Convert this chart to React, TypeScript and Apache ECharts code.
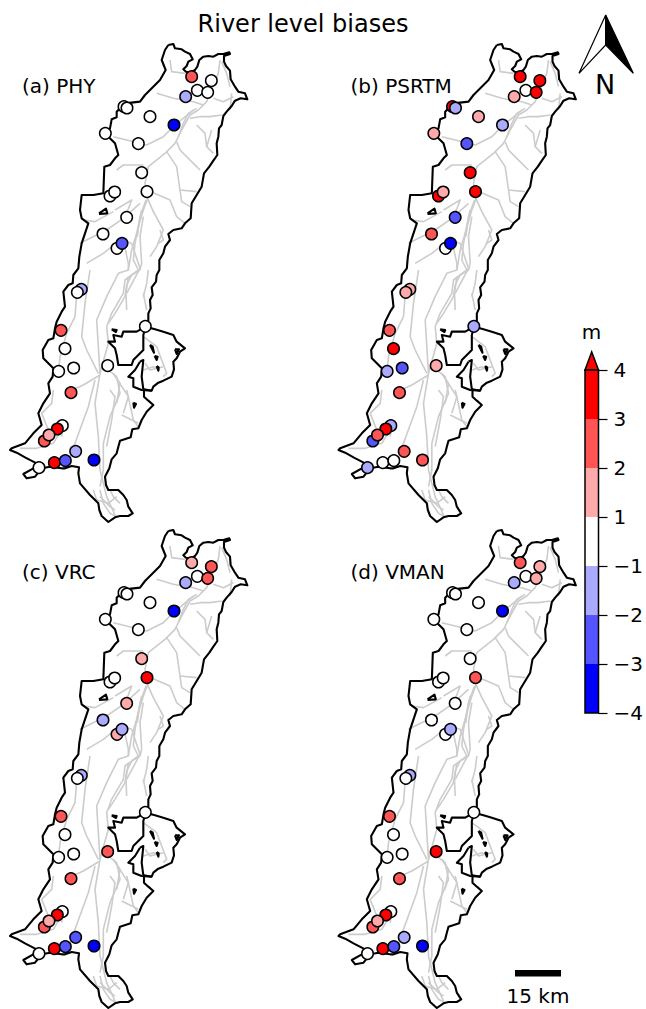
import React, { useEffect, useRef } from "react";
import * as echarts from "echarts";

const FONT = "DejaVu Sans";
const panelLabels = ["(a) PHY", "(b) PSRTM", "(c) VRC", "(d) VMAN"];
const tickLabels = ["\u22124", "\u22123", "\u22122", "\u22121", "1", "2", "3", "4"];
const binColors = ["#0000ff", "#5555ff", "#aaaaff", "#ffffff", "#ffaaaa", "#ff5555", "#ff0000"];
const binEdges = [-3, -2, -1, 1, 2, 3];

// Map units: 3 units per screen pixel
const stations: number[][] = [
  [575, 140], [634, 152], [592, 181], [623, 187], [557, 200], [372, 230], [381, 234], [450, 260],
  [522, 285], [316, 310], [415, 341], [425, 428], [330, 498], [344, 486], [441, 485], [380, 562],
  [309, 612], [351, 655], [366, 640], [244, 778], [232, 787], [436, 889], [183, 901], [195, 956],
  [221, 1014], [176, 1024], [323, 1007], [213, 1088], [187, 1187], [172, 1197], [133, 1233],
  [147, 1215], [227, 1264], [282, 1290], [117, 1313], [163, 1298], [196, 1292],
];
const biasPHY = [2.5, 0, 0, 0, -1.5, 0, 0, 0, -3.5, 0, 0, 0, 0, 0, 0, 0, 0, 0, -2.5, -1.5, 0, 0, 2.5, 0, 0, 0, 0, 2.5, 0, 3.5, 2.5, 1.5, -1.5, -3.5, 0, 3.5, -2.5];
const biasPSRTM = [3.5, 3.5, 0, 3.5, 1.5, 3.5, -1.5, 1.5, -1.5, 1.5, -2.5, 3.5, 3.5, 1.5, 3.5, -2.5, 2.5, 0, -3.5, 1.5, 1.5, -1.5, 2.5, 3.5, -2.5, -1.5, 1.5, 2.5, -1.5, 3.5, -2.5, 2.5, 2.5, 2.5, -1.5, 0, 0];
const biasVRC = [1.5, 2.5, 0, 2.5, -1.5, 0, 0, 0, -3.5, 0, 0, 1.5, 0, 0, 3.5, 1.5, -1.5, 1.5, -1.5, -1.5, 0, 0, 2.5, 0, 0, 0, 2.5, 2.5, 0, 3.5, 2.5, 1.5, -2.5, -3.5, 0, 3.5, -2.5];
const biasVMAN = [2.5, 1.5, 0, 1.5, -1.5, 0, 0, 0, -3.5, 0, 0, 0, 0, 0, 2.5, 0, 0, 0, -1.5, -1.5, 0, 0, 2.5, 0, 0, 0, 3.5, 2.5, 0, 3.5, 2.5, 1.5, -1.5, -3.5, 0, 3.5, -2.5];
const panelBias = [biasPHY, biasPSRTM, biasVRC, biasVMAN];

const outline: number[][] = [
  [505, 45], [520, 42], [525, 55], [545, 58], [555, 65], [570, 72], [578, 88], [565, 95], [560, 108], [550, 118],
  [558, 125], [572, 128], [585, 120], [592, 110], [598, 90], [610, 80], [625, 78], [640, 80], [655, 72], [670, 72],
  [688, 67], [690, 72], [672, 78], [672, 95], [678, 108], [690, 122], [692, 148], [705, 170], [715, 185], [735, 190],
  [742, 208], [722, 205], [705, 212], [695, 228], [680, 245], [670, 258], [665, 285], [657, 295], [655, 320], [650, 340],
  [652, 375], [640, 392], [628, 410], [612, 430], [605, 470], [590, 495], [575, 520], [572, 565], [555, 580], [545, 595],
  [520, 600], [505, 612], [510, 630], [495, 650], [490, 670], [478, 690], [478, 720], [470, 735], [468, 755], [455, 772],
  [458, 795], [450, 810], [452, 835], [445, 850], [445, 872], [437, 890], [465, 898], [490, 905], [520, 915], [530, 935],
  [555, 955], [540, 965], [530, 985], [520, 995], [522, 1018], [515, 1040], [490, 1052], [475, 1058], [460, 1070], [455, 1082],
  [432, 1078], [432, 1100], [445, 1112], [460, 1125], [440, 1145], [425, 1170], [415, 1195], [397, 1198], [392, 1222], [360, 1232],
  [355, 1250], [350, 1270], [335, 1288], [328, 1315], [315, 1340], [318, 1365], [325, 1380], [355, 1380], [370, 1395], [380, 1410],
  [385, 1430], [398, 1450], [385, 1458], [360, 1458], [345, 1462], [325, 1476], [305, 1458], [298, 1440], [295, 1420], [270, 1395],
  [240, 1360], [235, 1330], [237, 1312], [215, 1308], [195, 1315], [185, 1315], [150, 1310], [125, 1315], [105, 1340], [80, 1345],
  [70, 1332], [100, 1315], [110, 1300], [75, 1282], [50, 1268], [30, 1260], [35, 1255], [75, 1240], [100, 1210], [125, 1185],
  [115, 1150], [130, 1120], [150, 1090], [145, 1060], [158, 1040], [160, 1015], [130, 985], [128, 960], [145, 930], [160, 925],
  [165, 895], [170, 875], [185, 845], [195, 830], [190, 785], [205, 765], [218, 760], [220, 735], [235, 715], [238, 680],
  [245, 640], [265, 580], [245, 565], [240, 540], [245, 495], [280, 495], [310, 490], [313, 410], [330, 405], [345, 385],
  [355, 375], [345, 340], [325, 320], [305, 310], [330, 295], [335, 268], [350, 262], [350, 245], [375, 220], [420, 215],
  [435, 195], [450, 180], [480, 150], [497, 120], [485, 90], [495, 60], [505, 45],
];
const innerBorderA: number[][] = [
  [437, 890], [410, 905], [370, 905], [365, 920], [340, 915], [345, 935], [325, 935], [345, 955],
  [350, 975], [355, 1005], [395, 1005], [400, 990], [430, 960], [430, 915], [437, 890],
];
const innerBorderB: number[][] = [
  [420, 995], [405, 1020], [385, 1040], [400, 1045], [400, 1070], [425, 1080], [455, 1082],
];
const innerBorderC: number[][] = [[420, 995], [430, 990], [425, 1040], [430, 1078]];
const holes: number[][][] = [
  [[297, 550], [318, 536], [322, 550], [297, 552]],
  [[335, 898], [350, 900], [348, 906], [335, 898]],
  [[450, 945], [458, 950], [462, 968], [450, 945]],
  [[464, 978], [473, 980], [470, 990], [464, 978]],
  [[470, 1008], [476, 1012], [475, 1022], [470, 1008]],
  [[525, 958], [537, 958], [530, 972], [525, 958]],
  [[400, 1118], [408, 1122], [402, 1133], [400, 1118]],
];
const rivers: number[][][] = [
  [[510, 90], [515, 125], [555, 130]],
  [[660, 90], [655, 130], [640, 165], [620, 215], [595, 240], [570, 255], [545, 300], [525, 340], [495, 370], [445, 410], [435, 460], [445, 500], [430, 540], [415, 590], [405, 640], [400, 690], [415, 720], [375, 750], [370, 790], [335, 850], [320, 890], [325, 940], [300, 1030]],
  [[425, 540], [410, 610], [395, 660], [385, 720], [355, 730], [320, 800], [290, 870], [300, 1030], [285, 1120], [295, 1220], [300, 1320], [320, 1400], [345, 1455]],
  [[300, 1035], [250, 1065], [205, 1085]],
  [[285, 1050], [265, 1130], [225, 1240], [205, 1300]],
  [[270, 720], [255, 820], [245, 920], [260, 960], [295, 1030]],
  [[325, 1020], [350, 1040], [360, 1090], [330, 1160], [310, 1240], [310, 1320], [300, 1370]],
  [[340, 1030], [385, 1100], [400, 1170], [415, 1190]],
  [[365, 1155], [415, 1180]],
  [[230, 795], [225, 860], [200, 910], [180, 980], [175, 1030]],
  [[145, 1200], [125, 1150], [155, 1120], [160, 1080]],
  [[60, 1255], [110, 1255], [160, 1240], [190, 1190], [185, 1220]],
  [[280, 1380], [290, 1410], [325, 1420], [350, 1400]],
  [[330, 1380], [340, 1400], [360, 1420]],
  [[300, 1400], [330, 1430], [345, 1440]],
  [[695, 190], [690, 240]],
  [[690, 170], [680, 130], [665, 95]],
  [[470, 190], [520, 205], [580, 215], [610, 225]],
  [[340, 320], [380, 330], [440, 345], [490, 320], [525, 285], [550, 265], [580, 240]],
  [[665, 255], [630, 260], [600, 260], [570, 265]],
  [[635, 300], [620, 350], [640, 370]],
  [[590, 285], [615, 310], [620, 350]],
  [[530, 335], [540, 360], [580, 400], [600, 420]],
  [[500, 365], [530, 410], [540, 480], [590, 485]],
  [[540, 480], [545, 515], [570, 530]],
  [[440, 480], [510, 510], [530, 560], [555, 580]],
  [[350, 420], [370, 405], [430, 405]],
  [[440, 500], [460, 545], [490, 600], [470, 650], [450, 680]],
  [[240, 640], [320, 600], [370, 565], [420, 520]],
  [[260, 700], [310, 670], [360, 630], [395, 640]],
  [[345, 540], [395, 510], [380, 550]],
  [[250, 570], [285, 575], [340, 545]],
  [[370, 630], [385, 700], [385, 720]],
  [[395, 640], [420, 715], [380, 790]],
  [[430, 790], [440, 840]],
  [[430, 920], [470, 950], [500, 1030], [490, 1040]],
  [[430, 1020], [460, 1010], [480, 1020]],
  [[420, 720], [395, 735], [380, 765], [375, 800], [345, 850], [325, 880]],
  [[385, 740], [378, 790], [380, 840]],
  [[445, 720], [440, 760], [430, 800]],
  [[340, 1030], [360, 1060], [350, 1120]],
  [[380, 1080], [385, 1100], [370, 1150]],
  [[300, 1380], [310, 1420], [330, 1450], [350, 1460]],
  [[490, 1010], [450, 1020], [435, 1000]],
  [[430, 560], [420, 620], [425, 700], [420, 720]],
  [[480, 600], [490, 630], [475, 640]],
  [[438, 510], [420, 560], [412, 620]],
  [[590, 235], [565, 250], [550, 280], [535, 320]],
  [[700, 200], [670, 215], [640, 205]],
  [[330, 1080], [345, 1100], [335, 1170], [320, 1250]],
];

const binColor = (v: number) => {
  const i = binEdges.findIndex((e) => v < e);
  return binColors[i < 0 ? binColors.length - 1 : i];
};

const panelLeft = [0, 328.5, 0, 328.5];
const panelTop = [30, 30, 516, 516];

export default function App() {
  const ref = useRef<HTMLDivElement>(null);
  useEffect(() => {
    document.body.style.margin = "0";
    const chart = echarts.init(ref.current!, undefined, { renderer: "svg" });
    const series: any[] = [];
    panelBias.forEach((bias, p) => {
      const line = (data: number[][], color: string, width: number, z: number) => ({
        type: "line", xAxisIndex: p, yAxisIndex: p, data, symbol: "none", silent: true, z,
        lineStyle: { color, width, join: "round" },
      });
      rivers.forEach((r) => series.push(line(r, "#cccccc", 1.6, 1)));
      [outline, innerBorderA, innerBorderB, innerBorderC, ...holes].forEach((o) => series.push(line(o, "#000000", 2.1, 2)));
      stations.forEach((s, i) => {
        series.push({
          type: "scatter", xAxisIndex: p, yAxisIndex: p, data: [s], symbol: "circle", symbolSize: 11.5,
          silent: true, z: 3,
          itemStyle: { color: binColor(bias[i]), borderColor: "#000", borderWidth: 1.5, opacity: 1 },
        });
      });
    });
    binColors.forEach((c) => {
      series.push({
        type: "bar", xAxisIndex: 4, yAxisIndex: 4, stack: "cb", barWidth: "100%", data: [1],
        silent: true, itemStyle: { color: c },
      });
    });
    const text = (t: string, x: number, y: number, size: number, align = "left") => ({
      type: "text", x, y, silent: true,
      style: { text: t, fontFamily: FONT, fontSize: size, fill: "#000", align, verticalAlign: "middle" },
    });
    chart.setOption({
      animation: false,
      title: { show: false },
      grid: [
        ...panelLeft.map((l, i) => ({ left: l, top: panelTop[i], width: 310, height: 493 })),
        { left: 585, top: 370, width: 13.5, height: 343 },
      ],
      xAxis: [
        ...panelLeft.map((_, i) => ({ gridIndex: i, type: "value", min: 0, max: 930, show: false })),
        { gridIndex: 4, type: "category", data: ["bar"], show: false },
      ],
      yAxis: [
        ...panelLeft.map((_, i) => ({ gridIndex: i, type: "value", min: 0, max: 1479, inverse: true, show: false })),
        {
          gridIndex: 4, type: "value", min: 0, max: 7, interval: 1, position: "right", splitLine: { show: false },
          axisLine: { show: false },
          axisTick: { show: true, length: 9, lineStyle: { color: "#000", width: 1.2 } },
          axisLabel: { color: "#000", fontFamily: FONT, fontSize: 20, margin: 15, formatter: (v: number) => tickLabels[v] },
        },
      ],
      series,
      graphic: [
        text("River level biases", 303, 24, 24, "center"),
        ...panelLabels.map((l, i) => text(l, panelLeft[i] + 22, i < 2 ? 86 : 572, 20)),
        { type: "polygon", silent: true, z: 10, shape: { points: [[585, 370], [591.7, 352], [598.5, 370]] }, style: { fill: "#ff0000", stroke: "#000", lineWidth: 1.5 } },
        { type: "rect", silent: true, z: 10, shape: { x: 585, y: 370, width: 13.5, height: 343 }, style: { fill: "none", stroke: "#000", lineWidth: 1.5 } },
        text("m", 591.5, 332, 20, "center"),
        { type: "polygon", silent: true, z: 10, shape: { points: [[605.7, 15], [579, 73.3], [605.7, 45]] }, style: { fill: "#fff", stroke: "#000", lineWidth: 1.2 } },
        { type: "polygon", silent: true, z: 10, shape: { points: [[605.7, 15], [633.3, 73.3], [605.7, 45]] }, style: { fill: "#000", stroke: "#000", lineWidth: 1.2 } },
        text("N", 605, 84, 27, "center"),
        { type: "rect", silent: true, shape: { x: 515, y: 970, width: 46, height: 6.5 }, style: { fill: "#000" } },
        text("15 km", 538, 996, 20, "center"),
      ],
    });
    return () => chart.dispose();
  }, []);
  return <div ref={ref} style={{ position: "absolute", left: 0, top: 0, width: 646, height: 1009 }} />;
}
